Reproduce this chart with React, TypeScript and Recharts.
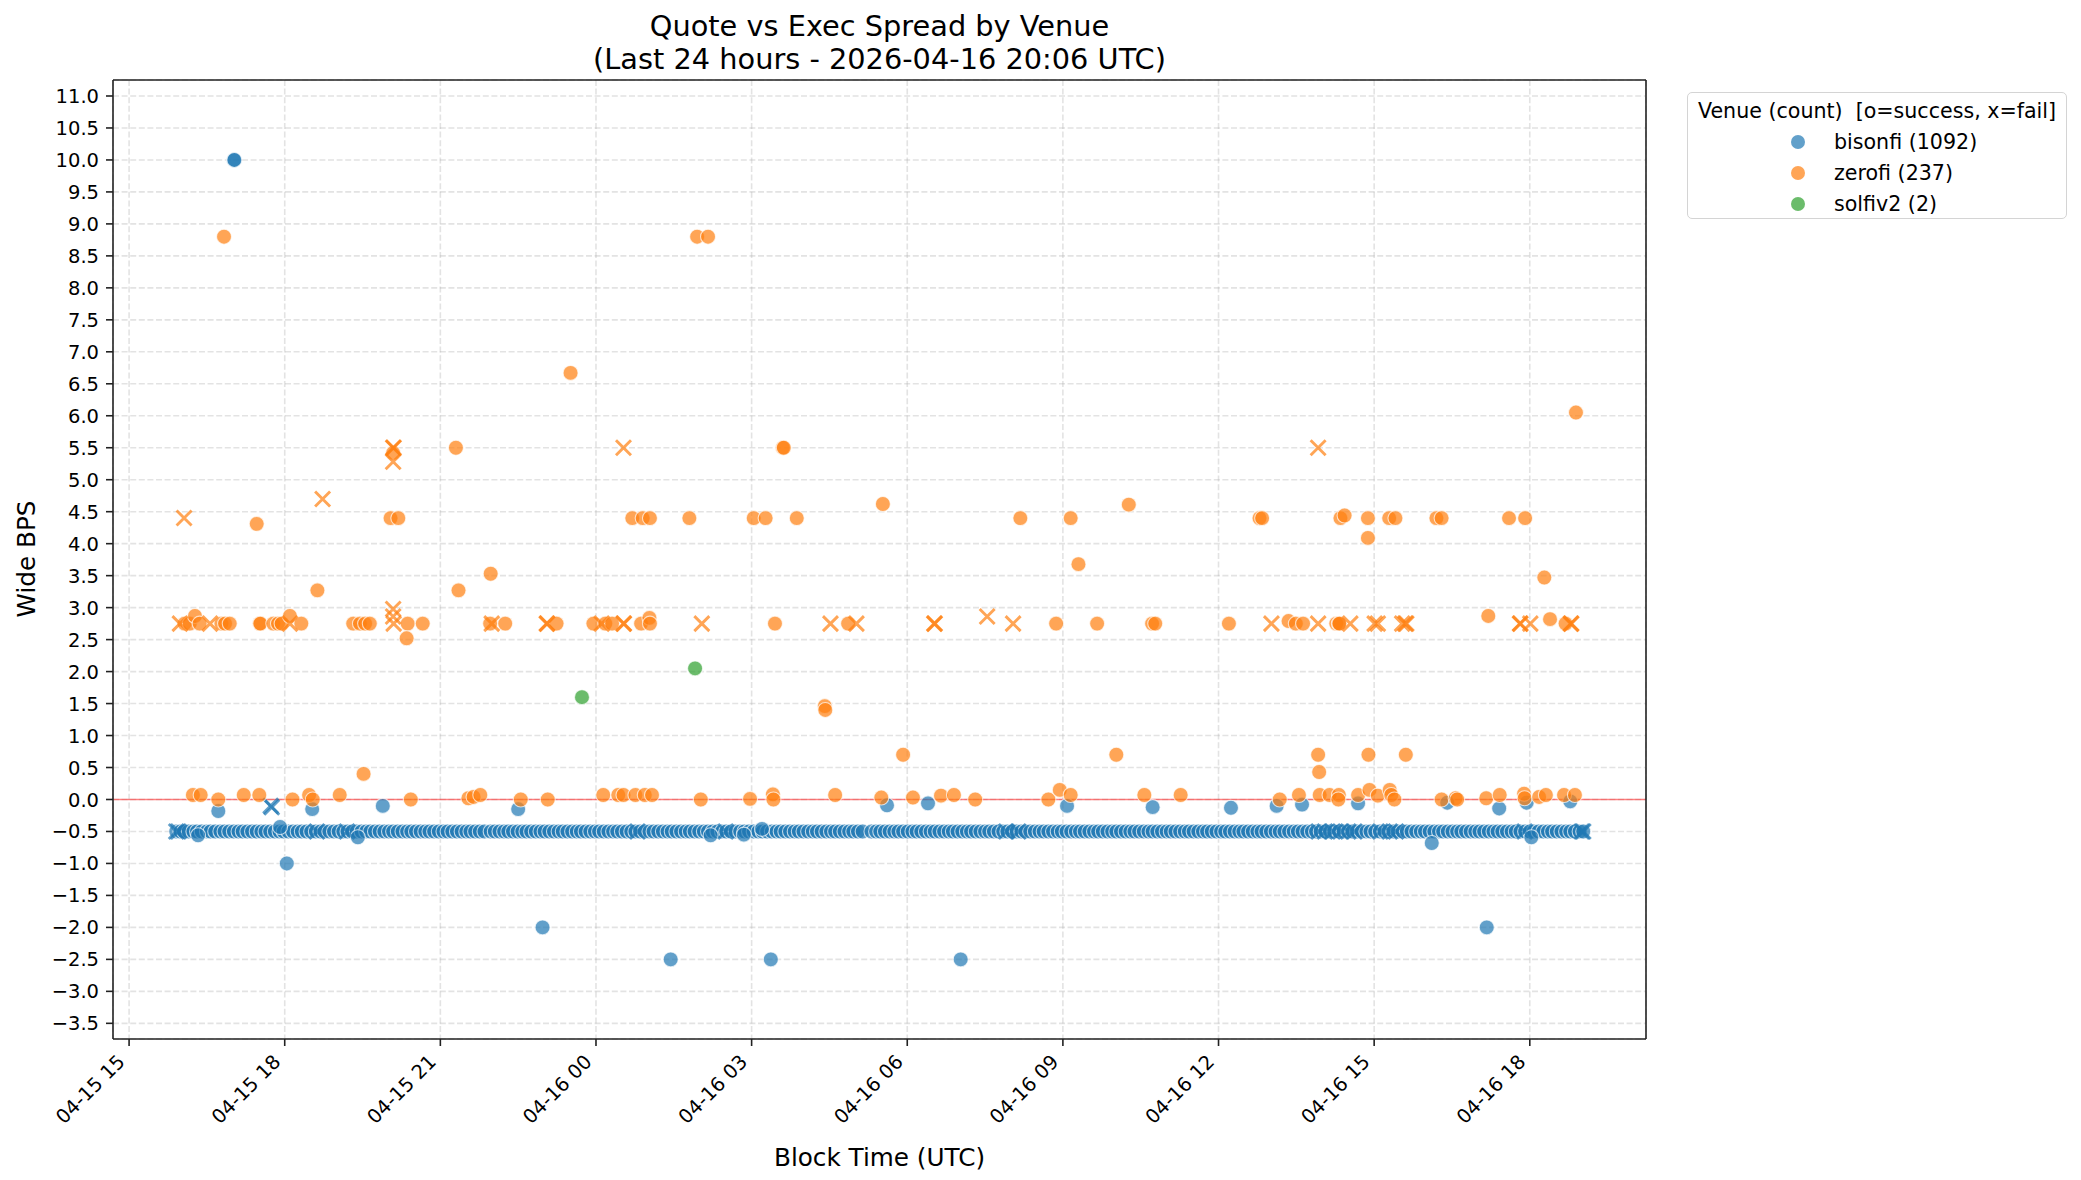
import { ScatterChart, Scatter, XAxis, YAxis, CartesianGrid, ReferenceLine } from 'recharts';

// hours since 2026-04-15 00:00 UTC
const X_TICKS = [15, 18, 21, 24, 27, 30, 33, 36, 39, 42];
const Y_TICKS = [-3.5, -3, -2.5, -2, -1.5, -1, -0.5, 0, 0.5, 1, 1.5, 2, 2.5, 3, 3.5, 4, 4.5, 5, 5.5, 6, 6.5, 7, 7.5, 8, 8.5, 9, 9.5, 10, 10.5, 11];
const X_DOMAIN = [14.69, 44.24];
const Y_DOMAIN = [-3.745, 11.25];

const VENUES = ['bisonfi', 'zerofi', 'solfiv2'];
const VENUE_COUNTS = [1092, 237, 2];
const COLORS = ['#1f77b4', '#ff7f0e', '#2ca02c'];

// bisonfi successes sitting on the -0.5 band
const BAND_LEVEL = -0.5;
const BISONFI_BAND_HOURS = [
  15.91, 15.99,
  16.06, 16.15, 16.24, 16.31, 16.4, 16.5, 16.57, 16.66, 16.76, 16.84, 16.93,
  17.02, 17.11, 17.19, 17.28, 17.37, 17.46, 17.55, 17.63, 17.72, 17.81, 17.9, 17.98,
  18.07, 18.16, 18.25, 18.33, 18.42, 18.51, 18.6, 18.69, 18.77, 18.86, 18.95,
  19.04, 19.13, 19.21, 19.3, 19.39, 19.48, 19.57, 19.65, 19.74, 19.83, 19.92,
  20.01, 20.09, 20.18, 20.27, 20.36, 20.44, 20.53, 20.62, 20.71, 20.79, 20.88, 20.97,
  21.06, 21.14, 21.23, 21.32, 21.41, 21.5, 21.58, 21.67, 21.76, 21.85,
  21.97,
  22.05, 22.14, 22.23, 22.31, 22.4, 22.49, 22.58, 22.66, 22.75, 22.84, 22.93,
  23.01, 23.1, 23.19, 23.28, 23.36, 23.45, 23.54, 23.63, 23.71, 23.8, 23.89, 23.98,
  24.06, 24.15, 24.24, 24.33, 24.41, 24.5, 24.59, 24.68, 24.76, 24.85, 24.94,
  25.03, 25.11, 25.2, 25.29, 25.38, 25.46, 25.55, 25.64, 25.73, 25.81, 25.9, 25.99,
  26.08, 26.16, 26.25, 26.34, 26.43, 26.51, 26.6, 26.69, 26.78, 26.86, 26.95,
  27.04, 27.13, 27.21, 27.3, 27.39, 27.48, 27.56, 27.65, 27.74, 27.83, 27.91,
  28.0, 28.09, 28.18, 28.26, 28.35, 28.44, 28.53, 28.61, 28.7, 28.79, 28.88, 28.96,
  29.05, 29.14, 29.31, 29.4, 29.48, 29.57, 29.66, 29.75, 29.83, 29.92,
  30.01, 30.1, 30.18, 30.27, 30.36, 30.45, 30.53, 30.62, 30.71, 30.8, 30.88, 30.97,
  31.06, 31.15, 31.23, 31.32, 31.41, 31.5, 31.58, 31.67, 31.76, 31.85, 31.93,
  32.02, 32.11, 32.2, 32.28, 32.37, 32.46, 32.55, 32.63, 32.72, 32.81, 32.9, 32.98,
  33.07, 33.16, 33.25, 33.33, 33.42, 33.51, 33.6, 33.68, 33.77, 33.86, 33.95,
  34.03, 34.12, 34.21, 34.3, 34.38, 34.47, 34.56, 34.65, 34.73, 34.82, 34.91,
  35.0, 35.08, 35.17, 35.26, 35.35, 35.43, 35.52, 35.61, 35.7, 35.78, 35.87, 35.96,
  36.05, 36.13, 36.22, 36.31, 36.4, 36.48, 36.57, 36.66, 36.75, 36.83, 36.92,
  37.01, 37.1, 37.18, 37.27, 37.36, 37.45, 37.53, 37.62, 37.71, 37.8, 37.88, 37.97,
  38.06, 38.15, 38.23, 38.32, 38.41, 38.5, 38.58, 38.67, 38.76, 38.85, 38.93,
  39.02, 39.11, 39.2, 39.28, 39.37, 39.46, 39.55, 39.63, 39.72, 39.81, 39.9, 39.98,
  40.07, 40.16, 40.25, 40.33, 40.42, 40.51, 40.6, 40.68, 40.77, 40.86, 40.95,
  41.03, 41.12, 41.21, 41.3, 41.38, 41.47, 41.56, 41.65, 41.73, 41.82, 41.91,
  42.0, 42.08, 42.17, 42.26, 42.35, 42.43, 42.52, 42.61, 42.7, 42.78, 42.87, 42.96, 43.03,
];

// [hour, bps]
const BISONFI_OK_OTHER = [
  [17.02, 10.0], [17.03, 10.0], [16.72, -0.18], [18.53, -0.15], [19.89, -0.1], [22.5, -0.15],
  [17.91, -0.43], [19.41, -0.59], [18.04, -1.0], [16.33, -0.56], [22.97, -2.0], [25.44, -2.5],
  [27.37, -2.5], [31.03, -2.5], [41.17, -2.0], [29.61, -0.09], [30.4, -0.06], [33.08, -0.1],
  [26.21, -0.56], [26.85, -0.55], [27.2, -0.46], [34.73, -0.12], [36.24, -0.13], [37.12, -0.1],
  [37.61, -0.08], [38.69, -0.06], [40.41, -0.05], [41.41, -0.14], [41.94, -0.05], [42.78, -0.03],
  [40.11, -0.68], [42.03, -0.59],
];

const BISONFI_FAIL = [
  [17.73, -0.1], [17.75, -0.12], [15.91, -0.5], [15.95, -0.5], [18.62, -0.5], [19.2, -0.5],
  [24.8, -0.5], [26.5, -0.5], [31.91, -0.5], [32.14, -0.5], [37.93, -0.5], [38.05, -0.5],
  [38.2, -0.5], [38.35, -0.5], [38.5, -0.5], [38.62, -0.5], [39.12, -0.5], [39.3, -0.5],
  [39.42, -0.5], [41.9, -0.5], [43.0, -0.5], [43.03, -0.5],
];

const ZEROFI_OK = [
  [16.83, 8.8], [25.95, 8.8], [26.16, 8.8], [23.51, 6.67], [17.46, 4.31], [42.89, 6.05],
  [20.09, 5.42], [21.3, 5.5], [27.6, 5.5], [27.62, 5.5],
  [20.04, 4.4], [20.19, 4.4], [24.7, 4.4], [24.9, 4.4], [25.04, 4.4], [25.8, 4.4], [27.04, 4.4],
  [27.27, 4.4], [27.87, 4.4], [32.18, 4.4], [33.15, 4.4], [36.79, 4.4], [36.84, 4.4], [38.35, 4.4],
  [38.43, 4.44], [38.88, 4.4], [39.29, 4.4], [39.41, 4.4], [40.2, 4.4], [40.3, 4.4], [41.6, 4.4],
  [41.91, 4.4],
  [29.53, 4.62], [34.27, 4.61], [33.3, 3.68], [38.88, 4.09], [42.28, 3.47],
  [18.63, 3.27], [21.35, 3.27], [21.97, 3.53],
  [16.07, 2.75], [16.17, 2.75], [16.27, 2.87], [16.36, 2.75], [16.78, 2.75], [16.85, 2.75],
  [16.94, 2.75], [17.52, 2.75], [17.53, 2.75], [17.78, 2.75], [17.87, 2.75], [17.94, 2.75],
  [18.1, 2.87], [18.32, 2.75], [19.32, 2.75], [19.45, 2.75], [19.55, 2.75], [19.64, 2.75],
  [20.37, 2.75], [20.66, 2.75], [20.35, 2.52], [21.96, 2.75], [22.25, 2.75], [23.24, 2.75],
  [23.95, 2.75], [24.18, 2.75], [24.31, 2.75], [24.87, 2.75], [25.03, 2.84], [25.04, 2.75],
  [27.45, 2.75], [28.86, 2.75], [32.87, 2.75], [33.66, 2.75], [34.72, 2.75], [34.78, 2.75],
  [36.2, 2.75], [37.35, 2.79], [37.49, 2.75], [37.63, 2.75], [38.27, 2.75], [38.32, 2.75],
  [38.33, 2.75], [41.2, 2.87], [42.39, 2.82], [42.69, 2.75],
  [28.41, 1.46], [28.42, 1.4],
  [29.92, 0.7], [34.03, 0.7], [37.92, 0.7], [38.89, 0.7], [39.61, 0.7], [37.94, 0.43], [19.52, 0.4],
  [16.23, 0.07], [16.38, 0.07], [16.72, 0], [17.21, 0.07], [17.51, 0.07], [18.15, 0], [18.47, 0.07],
  [18.54, 0], [19.06, 0.07], [20.43, 0], [21.54, 0.02], [21.64, 0.04], [21.77, 0.07], [22.55, 0],
  [23.07, 0], [24.14, 0.07], [24.43, 0.07], [24.53, 0.07],
  [24.76, 0.07], [24.94, 0.07], [25.08, 0.07], [26.02, 0], [26.97, 0.01], [27.41, 0.08], [27.42, 0],
  [28.61, 0.07], [29.5, 0.03], [30.11, 0.03], [30.65, 0.06], [30.9, 0.07], [31.31, 0], [32.72, 0],
  [32.94, 0.15], [33.15, 0.07],
  [34.57, 0.07], [35.27, 0.07], [37.18, 0], [37.55, 0.07], [37.95, 0.07], [38.14, 0.07], [38.32, 0.07],
  [38.31, 0], [38.69, 0.07], [38.91, 0.15], [39.07, 0.06], [39.3, 0.15], [39.33, 0.07], [39.39, 0],
  [40.3, 0], [40.57, 0.02], [40.6, 0], [41.16, 0.02], [41.42, 0.07], [41.89, 0.09], [41.9, 0.02],
  [42.18, 0.04], [42.31, 0.07], [42.66, 0.07], [42.87, 0.07],
];

const ZEROFI_FAIL = [
  [16.06, 4.4], [18.73, 4.7], [20.09, 5.5], [20.1, 5.5], [20.09, 5.28], [24.53, 5.5], [37.92, 5.5],
  [15.98, 2.75], [16.56, 2.75], [18.1, 2.75], [20.09, 2.98], [20.09, 2.86], [20.1, 2.75],
  [21.99, 2.75], [23.05, 2.75], [23.06, 2.75], [24.11, 2.75], [24.53, 2.75], [24.54, 2.75],
  [26.04, 2.75], [28.52, 2.75], [29.02, 2.75], [30.52, 2.75], [30.53, 2.75], [31.54, 2.86],
  [32.04, 2.75], [37.02, 2.75], [37.92, 2.75], [38.54, 2.75], [39.01, 2.75], [39.07, 2.75],
  [39.54, 2.75], [39.6, 2.75], [39.62, 2.75], [41.81, 2.75], [41.82, 2.75], [42.01, 2.75],
  [42.79, 2.75], [42.8, 2.75],
];

const SOLFIV2_OK = [[23.73, 1.6], [25.91, 2.05]];

const toPts = (rows: number[][]) => rows.map(([x, y]) => ({ x, y }));

const bisonfiOk = [...BISONFI_BAND_HOURS.map((x) => ({ x, y: BAND_LEVEL })), ...toPts(BISONFI_OK_OTHER)];
const bisonfiFail = toPts(BISONFI_FAIL);
const zerofiOk = toPts(ZEROFI_OK);
const zerofiFail = toPts(ZEROFI_FAIL);
const solfiOk = toPts(SOLFIV2_OK);

const FONT = '"DejaVu Sans", sans-serif';

const Dot = (props: any) => {
  const { cx, cy, fill } = props;
  if (cx == null || cy == null) return null;
  return <circle cx={cx} cy={cy} r={7.5} fill={fill} fillOpacity={0.7} stroke="#fff" strokeOpacity={0.7} strokeWidth={1.1} />;
};

const Cross = (props: any) => {
  const { cx, cy, fill } = props;
  if (cx == null || cy == null) return null;
  const d = 7.5;
  return (
    <path
      d={`M${cx - d},${cy - d}L${cx + d},${cy + d}M${cx - d},${cy + d}L${cx + d},${cy - d}`}
      stroke={fill}
      strokeOpacity={0.7}
      strokeWidth={2.9}
      fill="none"
    />
  );
};

const hourLabel = (h: number) => {
  const day = h >= 24 ? '04-16' : '04-15';
  const hh = String(h % 24).padStart(2, '0');
  return `${day} ${hh}`;
};

const XTick = (props: any) => {
  const { x, y, payload } = props;
  const px = x - 3;
  const py = y + 17;
  return (
    <text x={px} y={py} textAnchor="end" fontSize={19.5} fontFamily={FONT} fill="#000" transform={`rotate(-45, ${px}, ${py})`}>
      {hourLabel(payload.value)}
    </text>
  );
};

const YTick = (props: any) => {
  const { x, y, payload } = props;
  const v = payload.value;
  const s = v < 0 ? '\u2212' + Math.abs(v).toFixed(1) : v.toFixed(1);
  return (
    <text x={x} y={y} dy="0.36em" textAnchor="end" fontSize={19.5} fontFamily={FONT} fill="#000">
      {s}
    </text>
  );
};

const axisStyle = { stroke: '#222', strokeWidth: 1.6 };

export default function App() {
  return (
    <div style={{ position: 'absolute', left: 0, top: 0, width: 2081, height: 1180, background: '#fff', fontFamily: FONT }}>
      <ScatterChart width={2081} height={1180} margin={{ top: 80, right: 435, bottom: 0, left: 0 }}>
        <CartesianGrid strokeDasharray="6 2.6" stroke="#b0b0b0" strokeOpacity={0.35} strokeWidth={1.6} />
        <XAxis
          type="number"
          dataKey="x"
          domain={X_DOMAIN}
          ticks={X_TICKS}
          interval={0}
          allowDataOverflow
          height={141}
          tickSize={7}
          tickMargin={0}
          axisLine={axisStyle}
          tickLine={axisStyle}
          tick={<XTick />}
        />
        <YAxis
          type="number"
          dataKey="y"
          domain={Y_DOMAIN}
          ticks={Y_TICKS}
          interval={0}
          allowDataOverflow
          width={113}
          tickSize={7}
          tickMargin={7}
          axisLine={axisStyle}
          tickLine={axisStyle}
          tick={<YTick />}
        />
        <ReferenceLine y={0} stroke="#ff0000" strokeOpacity={0.5} strokeWidth={1.6} />
        <ReferenceLine y={Y_DOMAIN[1]} stroke="#222" strokeWidth={1.6} />
        <ReferenceLine x={X_DOMAIN[1]} stroke="#222" strokeWidth={1.6} />
        <Scatter name="bisonfi" data={bisonfiOk} fill={COLORS[0]} shape={(p: any) => <Dot {...p} />} isAnimationActive={false} />
        <Scatter name="bisonfi fail" data={bisonfiFail} fill={COLORS[0]} shape={(p: any) => <Cross {...p} />} isAnimationActive={false} />
        <Scatter name="zerofi" data={zerofiOk} fill={COLORS[1]} shape={(p: any) => <Dot {...p} />} isAnimationActive={false} />
        <Scatter name="zerofi fail" data={zerofiFail} fill={COLORS[1]} shape={(p: any) => <Cross {...p} />} isAnimationActive={false} />
        <Scatter name="solfiv2" data={solfiOk} fill={COLORS[2]} shape={(p: any) => <Dot {...p} />} isAnimationActive={false} />
      </ScatterChart>

      <div style={{ position: 'absolute', left: 113, top: 10, width: 1533, textAlign: 'center', fontSize: 28.8, lineHeight: '33px', color: '#000' }}>
        <div>Quote vs Exec Spread by Venue</div>
        <div>(Last 24 hours - 2026-04-16 20:06 UTC)</div>
      </div>

      <div style={{ position: 'absolute', left: 113, top: 1143, width: 1533, textAlign: 'center', fontSize: 24.7, lineHeight: '30px', color: '#000' }}>
        Block Time (UTC)
      </div>

      <div style={{ position: 'absolute', left: 27, top: 559, transform: 'translate(-50%, -50%) rotate(-90deg)', whiteSpace: 'nowrap', fontSize: 24.7, lineHeight: '30px', color: '#000' }}>
        Wide BPS
      </div>

      <div style={{ position: 'absolute', left: 1687, top: 92, width: 380, height: 127, boxSizing: 'border-box', border: '1.6px solid #d4d4d4', borderRadius: 5, background: 'rgba(255,255,255,0.8)', fontSize: 20.6, color: '#000' }}>
        <div style={{ position: 'absolute', left: 0, top: 4, width: '100%', textAlign: 'center', lineHeight: '28px', whiteSpace: 'nowrap' }}>
          Venue (count)&nbsp;&nbsp;[o=success, x=fail]
        </div>
        {VENUES.map((v, i) => (
          <div key={v} style={{ position: 'absolute', left: 0, top: 35 + i * 31, height: 28, width: '100%' }}>
            <span style={{ position: 'absolute', left: 103, top: 7, width: 14, height: 14, borderRadius: '50%', background: COLORS[i], opacity: 0.7 }} />
            <span style={{ position: 'absolute', left: 146, top: 0, lineHeight: '28px', whiteSpace: 'nowrap' }}>
              {`${v} (${VENUE_COUNTS[i]})`}
            </span>
          </div>
        ))}
      </div>
    </div>
  );
}
